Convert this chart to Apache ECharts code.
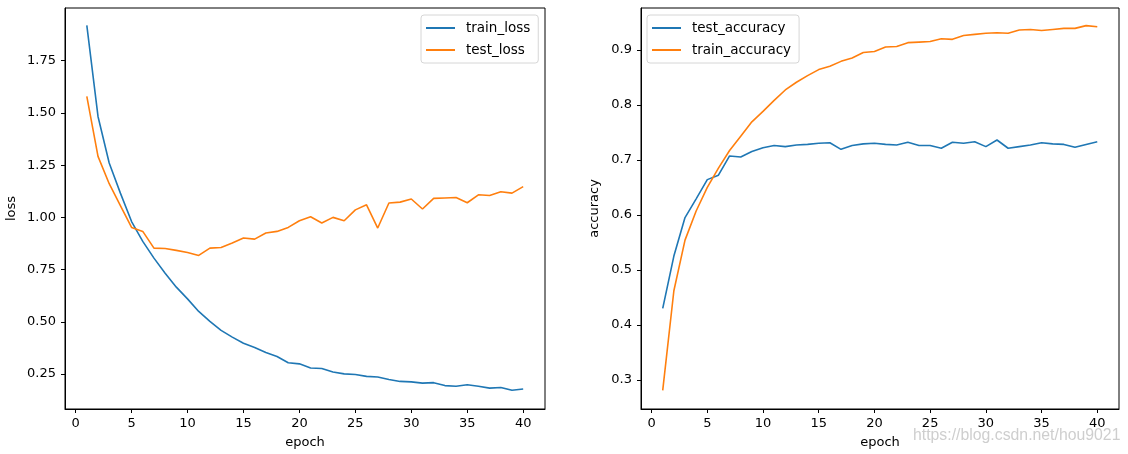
<!DOCTYPE html>
<html>
<head>
<meta charset="utf-8">
<script src="https://cdn.jsdelivr.net/npm/echarts@6/dist/echarts.min.js"></script>
<style>
html,body{margin:0;padding:0;background:#fff;}
#chart{width:1128px;height:454px;}
</style>
</head>
<body>
<div id="chart"></div>
<script>
const epochs = [1,2,3,4,5,6,7,8,9,10,11,12,13,14,15,16,17,18,19,20,21,22,23,24,25,26,27,28,29,30,31,32,33,34,35,36,37,38,39,40];
const trainLoss = [1.919,1.483,1.26,1.116,0.98,0.885,0.805,0.733,0.666,0.61,0.55,0.502,0.459,0.427,0.398,0.377,0.353,0.334,0.304,0.299,0.279,0.277,0.26,0.251,0.248,0.239,0.236,0.224,0.215,0.213,0.207,0.209,0.195,0.192,0.199,0.192,0.183,0.186,0.173,0.179];
const testLoss = [1.579,1.292,1.161,1.056,0.952,0.933,0.853,0.851,0.842,0.832,0.818,0.853,0.856,0.877,0.901,0.896,0.925,0.933,0.952,0.984,1.003,0.973,1.0,0.984,1.036,1.06,0.949,1.069,1.073,1.088,1.04,1.091,1.093,1.095,1.07,1.108,1.105,1.123,1.116,1.147];
const testAcc = [0.430,0.525,0.595,0.629,0.664,0.672,0.707,0.705,0.715,0.722,0.726,0.724,0.727,0.728,0.730,0.731,0.719,0.726,0.729,0.730,0.728,0.727,0.732,0.726,0.726,0.721,0.732,0.730,0.733,0.724,0.736,0.721,0.724,0.727,0.731,0.729,0.728,0.723,0.728,0.733];
const trainAcc = [0.281,0.462,0.554,0.607,0.650,0.685,0.717,0.743,0.769,0.788,0.808,0.827,0.841,0.853,0.864,0.870,0.879,0.885,0.895,0.897,0.905,0.906,0.913,0.914,0.915,0.920,0.919,0.926,0.928,0.930,0.931,0.930,0.936,0.937,0.935,0.937,0.939,0.939,0.944,0.942];
const xTicks = [0,5,10,15,20,25,30,35,40];
const lossTicks = [0.25,0.5,0.75,1.0,1.25,1.5,1.75];
const accTicks = [0.3,0.4,0.5,0.6,0.7,0.8,0.9];

const FONT = 'DejaVu Sans';
const BLUE = '#1f77b4', ORANGE = '#ff7f0e';
const pairs = (ys) => epochs.map((e, i) => [e, ys[i]]);

function xAxis(gridIndex) {
  return {
    type: 'value', gridIndex, min: -0.95, max: 41.95,
    name: 'epoch', nameLocation: 'middle', nameGap: 27,
    nameTextStyle: {fontFamily: FONT, fontSize: 13, color: '#000'},
    axisLine: {show: true, onZero: false, lineStyle: {color: '#000', width: 1}},
    axisTick: {show: true, inside: false, length: 4, lineStyle: {color: '#000', width: 1}, customValues: xTicks},
    axisLabel: {show: true, margin: 8, fontFamily: FONT, fontSize: 13, color: '#000', customValues: xTicks, formatter: v => String(v)},
    splitLine: {show: false}
  };
}
function yAxis(gridIndex, min, max, ticks, dec, name, gap) {
  return {
    type: 'value', gridIndex, min, max,
    name, nameLocation: 'middle', nameGap: gap,
    nameTextStyle: {fontFamily: FONT, fontSize: 13, color: '#000'},
    axisLine: {show: true, onZero: false, lineStyle: {color: '#000', width: 1}},
    axisTick: {show: true, inside: false, length: 4, lineStyle: {color: '#000', width: 1}, customValues: ticks},
    axisLabel: {show: true, margin: 9, fontFamily: FONT, fontSize: 13, color: '#000', customValues: ticks, formatter: v => v.toFixed(dec)},
    splitLine: {show: false}
  };
}
function legend(left, top, names) {
  return {
    data: names, left, top, orient: 'vertical',
    icon: 'rect', itemWidth: 29, itemHeight: 2, itemGap: 8,
    padding: [6, 8, 6, 5],
    backgroundColor: 'rgba(255,255,255,0.8)', borderColor: '#d6d6d6', borderWidth: 1, borderRadius: 3,
    textStyle: {fontFamily: FONT, fontSize: 13.5, color: '#000', lineHeight: 14, padding: [0, 0, 0, 6]}
  };
}
function line(name, x, y, data, color) {
  return {
    type: 'line', name, xAxisIndex: x, yAxisIndex: y, data: pairs(data),
    showSymbol: false, symbol: 'none', animation: false,
    lineStyle: {color, width: 1.6}, itemStyle: {color}
  };
}

const chart = echarts.init(document.getElementById('chart'), null, {renderer: 'canvas'});
chart.setOption({
  animation: false,
  backgroundColor: '#fff',
  grid: [
    {left: 65, top: 8, width: 480, height: 401, show: true, borderColor: '#000', borderWidth: 1, backgroundColor: 'transparent'},
    {left: 641, top: 8, width: 478, height: 401, show: true, borderColor: '#000', borderWidth: 1, backgroundColor: 'transparent'}
  ],
  xAxis: [xAxis(0), xAxis(1)],
  yAxis: [
    yAxis(0, 0.083, 2.002, lossTicks, 2, 'loss', 47),
    yAxis(1, 0.247, 0.976, accTicks, 1, 'accuracy', 40)
  ],
  legend: [
    legend(421, 15, ['train_loss', 'test_loss']),
    legend(647, 15, ['test_accuracy', 'train_accuracy'])
  ],
  series: [
    line('train_loss', 0, 0, trainLoss, BLUE),
    line('test_loss', 0, 0, testLoss, ORANGE),
    line('test_accuracy', 1, 1, testAcc, BLUE),
    line('train_accuracy', 1, 1, trainAcc, ORANGE)
  ],
  graphic: [{
    type: 'text', left: 913, top: 427, silent: true, scaleX: 0.93,
    style: {text: 'https://blog.csdn.net/hou9021', font: '17px "Liberation Sans", sans-serif', fill: 'rgba(190,190,190,0.75)'}
  }]
});
</script>
</body>
</html>
